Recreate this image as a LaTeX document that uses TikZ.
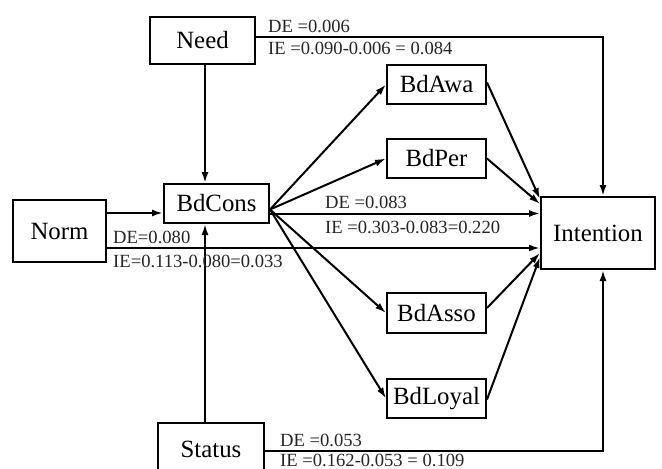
\documentclass[tikz,border=0pt]{standalone}
\usepackage{fontspec}
\setmainfont{Liberation Serif}
\usetikzlibrary{arrows.meta}
\begin{document}
\begin{tikzpicture}[x=1pt,y=-1pt,
  box/.style={draw, line width=2pt, inner sep=0pt, font=\fontsize{24.8}{26}\selectfont},
  arr/.style={line width=2pt, -{Latex[length=11pt,width=7pt]}},
  lab/.style={inner sep=0pt, anchor=base west, font=\fontsize{18.6}{20}\selectfont, text=black!85}]
\useasboundingbox (0,0) rectangle (662,469);
\node[box, minimum width=105pt, minimum height=47pt] (Need) at (202.5,40.5) {Need};
\node[box, minimum width=105pt, minimum height=39pt] (BdCons) at (216.5,203.5) {BdCons};
\node[box, minimum width=93pt, minimum height=62pt] (Norm) at (59.5,231) {Norm};
\node[box, minimum width=106pt, minimum height=52pt] (Status) at (211,449) {Status};
\node[box, minimum width=99pt, minimum height=39pt] (BdAwa) at (436.5,84.5) {BdAwa};
\node[box, minimum width=99pt, minimum height=39pt] (BdPer) at (436.5,158.5) {BdPer};
\node[box, minimum width=99pt, minimum height=40pt] (BdAsso) at (436.5,313) {BdAsso};
\node[box, minimum width=99pt, minimum height=39pt] (BdLoyal) at (436.5,398.5) {BdLoyal};
\node[box, minimum width=114pt, minimum height=72pt] (Intention) at (598,233) {Intention};

% Need
\draw[arr] ([yshift=3.5pt]Need.east) -| ([xshift=5pt]Intention.north);
\draw[arr] ([xshift=2.5pt]Need.south) -- ([xshift=2.5pt]Need.south |- BdCons.north);
% Status
\draw[arr] ([yshift=-2pt]Status.east) -| ([xshift=5pt]Intention.south);
\draw[arr] ([xshift=-6pt]Status.north) -- ([xshift=-6pt]Status.north |- BdCons.south);
% Norm
\draw[arr] ([yshift=18pt]Norm.east) -- ([yshift=18pt]Norm.east -| BdCons.west);
\draw[arr] ([yshift=-17pt]Norm.east) -- ([yshift=-17pt]Norm.east -| Intention.west);
% BdCons
\draw[arr] ([yshift=-10pt]BdCons.east) -- ([yshift=-10pt]BdCons.east -| Intention.west);
\coordinate (fan) at ([yshift=-6pt]BdCons.east);
\draw[arr] (fan) -- (BdAwa.west);
\draw[arr] (fan) -- (BdPer.west);
\draw[arr] (fan) -- (BdAsso.west);
\draw[arr] (fan) -- (BdLoyal.west);
% mediators to Intention
\draw[arr] ([yshift=2pt]BdAwa.east) -- ([yshift=34pt]Intention.west);
\draw[arr] (BdPer.east) -- ([yshift=29pt]Intention.west);
\draw[arr] ([yshift=5pt]BdAsso.east) -- ([yshift=-20pt]Intention.west);
\draw[arr] ([yshift=-1pt]BdLoyal.east) -- ([yshift=-24pt]Intention.west);

% labels
\node[lab] (l1) at (268,32) {DE =0.006};
\node[lab] (l2) at (268,54) {IE =0.090-0.006 = 0.084};
\node[lab] (l3) at (325,208) {DE =0.083};
\node[lab] (l4) at (325,233) {IE =0.303-0.083=0.220};
\node[lab] (l5) at (113,243) {DE=0.080};
\node[lab] (l6) at (113,267) {IE=0.113-0.080=0.033};
\node[lab] (l7) at (280,446) {DE =0.053};
\node[lab] (l8) at (280,466) {IE =0.162-0.053 = 0.109};
\end{tikzpicture}
\end{document}
